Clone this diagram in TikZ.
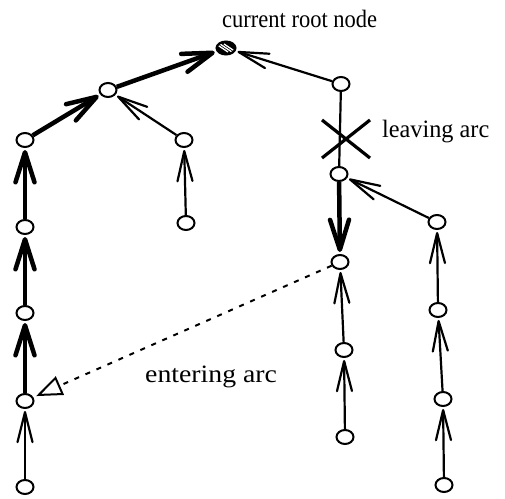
\documentclass[tikz,border=0pt]{standalone}
\usepackage{fontspec}
\usepackage{graphicx}
\setmainfont{Liberation Serif}
\usetikzlibrary{arrows.meta,shapes.geometric,calc}

\begin{document}
\begin{tikzpicture}[x=1pt,y=-1pt,
  vertex/.style={ellipse, draw, line width=2pt, minimum width=17pt,
    minimum height=14pt, inner sep=0pt, fill=white},
  rootvertex/.style={vertex, fill=black, minimum width=19pt, minimum height=13pt},
  arcthin/.style={line width=2.2pt,
    -{Straight Barb[length=30pt,width=15pt,round]}, shorten >=2pt},
  arcbold/.style={line width=4.5pt,
    -{Straight Barb[length=30pt,width=19pt,round]}, shorten >=2pt},
  arcplain/.style={line width=2.2pt},
  arcenter/.style={line width=2pt, dash pattern=on 5pt off 7pt,
    -{Triangle[open,length=26pt,width=20pt,line width=2pt]}, shorten >=3pt},
  label/.style={anchor=base west, inner sep=0pt, font=\fontsize{25}{29}\selectfont}
]
\useasboundingbox (0,0) rectangle (505,498);

% root and its two subtrees
\node[rootvertex] (root) at (226,48) {};
\begin{scope}
  \clip (226,48) ellipse [x radius=8pt, y radius=5pt];
  \foreach \d in {-4,0,4}
    \draw[white, line width=1.3pt] (220+\d,44) -- (232+\d,52);
\end{scope}

\node[vertex] (a)  at (108,90)  {};
\node[vertex] (r1) at (341,84)  {};

% left subtree
\node[vertex] (l1) at (25,140)  {};
\node[vertex] (l2) at (25,227)  {};
\node[vertex] (l3) at (25,313)  {};
\node[vertex] (l4) at (25,401)  {};
\node[vertex] (l5) at (25,487)  {};
\node[vertex] (m1) at (184,140) {};
\node[vertex] (m2) at (186,223) {};

% right subtree
\node[vertex] (r2) at (339,174) {};
\node[vertex] (r3) at (340,262) {};
\node[vertex] (r4) at (344,350) {};
\node[vertex] (r5) at (345,437) {};
\node[vertex] (s1) at (437,222) {};
\node[vertex] (s2) at (438,310) {};
\node[vertex] (s3) at (443,399) {};
\node[vertex] (s4) at (444,485) {};

% tree arcs
\draw[arcbold] (a) -- (root);
\draw[arcthin] (r1) -- (root);
\draw[arcbold] (l1) -- (a);
\draw[arcthin] (m1) -- (a);
\draw[arcthin] (m2) -- (m1);
\draw[arcbold] (l2) -- (l1);
\draw[arcbold] (l3) -- (l2);
\draw[arcbold] (l4) -- (l3);
\draw[arcthin] (l5) -- (l4);

\draw[arcplain] (r1) -- (r2);
\draw[arcbold] (r2) -- (r3);
\draw[arcthin] (s1) -- (r2);
\draw[arcthin] (r4) -- (r3);
\draw[arcthin] (r5) -- (r4);
\draw[arcthin] (s2) -- (s1);
\draw[arcthin] (s3) -- (s2);
\draw[arcthin] (s4) -- (s3);

% leaving arc marker
\coordinate (cross) at (346,139);
\draw[line width=3.2pt] ($(cross)+(-24,-19)$) -- ($(cross)+(24,19)$);
\draw[line width=3.2pt] ($(cross)+(24,-19)$) -- ($(cross)+(-24,19)$);

% entering arc
\draw[arcenter] (r3) -- (l4);

% labels
\node[label] (troot)  at (222,27)  {\scalebox{0.90}[1]{current root node}};
\node[label] (tleave) at (382,137) {\scalebox{0.97}[1]{leaving arc}};
\node[label] (tenter) at (145,382) {\scalebox{1.11}[1]{entering arc}};
\end{tikzpicture}
\end{document}
